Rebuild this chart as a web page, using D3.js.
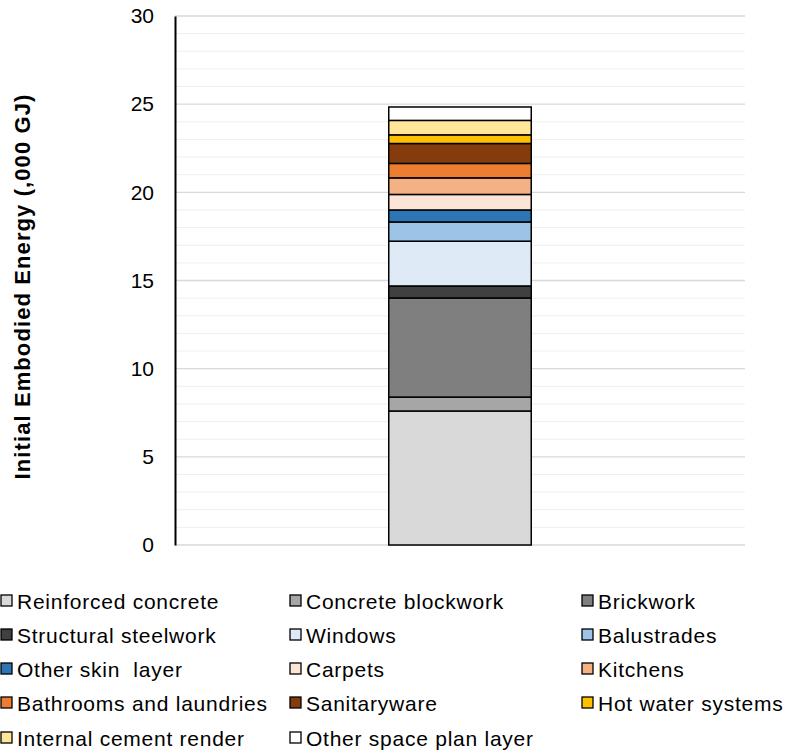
<!DOCTYPE html>
<html><head><meta charset="utf-8">
<script src="https://cdn.jsdelivr.net/npm/d3@7"></script>
<style>body{margin:0;background:#fff;font-family:"Liberation Sans",Arial,sans-serif;}</style>
</head><body>
<svg id="c" width="787" height="753"></svg>
<script>
const categories = ["Building"];
const seriesNames = ["Reinforced concrete","Concrete blockwork","Brickwork","Structural steelwork","Windows","Balustrades","Other skin  layer","Carpets","Kitchens","Bathrooms and laundries","Sanitaryware","Hot water systems","Internal cement render","Other space plan layer"];
const seriesValues = [7.60, 0.79, 5.62, 0.68, 2.54, 1.09, 0.68, 0.88, 0.94, 0.82, 1.13, 0.49, 0.82, 0.76];
const seriesColors = ["#d9d9d9","#a6a6a6","#7f7f7f","#404040","#deebf7","#9dc3e6","#2e75b6","#fbe5d6","#f4b183","#ed7d31","#843c0c","#ffc000","#ffe699","#ffffff"];
const yTicks = [0,5,10,15,20,25,30];
const yTitle = "Initial Embodied Energy (,000 GJ)";

const FONT = "Liberation Sans, Arial, sans-serif";
const svg = d3.select("#c");
const m = {l:175, r:745, t:16, b:545};
const y = d3.scaleLinear().domain([0,30]).range([m.b, m.t]);
const x = d3.scaleBand().domain(categories).range([m.l, m.r]).paddingInner(0.75).paddingOuter(0.375);

// minor gridlines
svg.append("g").selectAll("line").data(d3.range(1,30).filter(v=>v%5!==0)).join("line")
  .attr("x1", m.l).attr("x2", m.r).attr("y1", d=>y(d)).attr("y2", d=>y(d))
  .attr("stroke", "#efefef").attr("stroke-width", 1);
// major gridlines
svg.append("g").selectAll("line").data(yTicks).join("line")
  .attr("x1", m.l).attr("x2", m.r).attr("y1", d=>y(d)).attr("y2", d=>y(d))
  .attr("stroke", "#d9d9d9").attr("stroke-width", 1.3);

// stacked bar
const stackData = [Object.fromEntries(seriesNames.map((n,i)=>[n, seriesValues[i]]))];
const stacked = d3.stack().keys(seriesNames)(stackData);
svg.append("g").selectAll("rect").data(stacked).join("rect")
  .attr("x", x(categories[0]))
  .attr("width", x.bandwidth())
  .attr("y", d=>y(d[0][1]))
  .attr("height", d=>y(d[0][0]) - y(d[0][1]))
  .attr("fill", (d,i)=>seriesColors[i])
  .attr("stroke", "#000").attr("stroke-width", 1.5);

// y axis
const ax = svg.append("g").attr("transform", `translate(${m.l},0)`)
  .call(d3.axisLeft(y).tickValues(yTicks).tickSize(0).tickPadding(21));
ax.select(".domain").attr("stroke","#000").attr("stroke-width",2);
ax.selectAll("text").attr("font-size", 21).attr("font-family",FONT).attr("fill","#000");

svg.append("text")
  .attr("transform", `translate(30,${(93+480)/2}) rotate(-90)`)
  .attr("text-anchor","middle").attr("font-size",22).attr("font-weight","bold")
  .attr("letter-spacing", 1.1)
  .attr("font-family",FONT).text(yTitle);

// legend
const colX = [0, 289, 581];
const rowY = [601, 635, 669, 703, 738];
const lg = svg.append("g").selectAll("g").data(seriesNames).join("g")
  .attr("transform", (d,i)=>`translate(${colX[i%3]},${rowY[Math.floor(i/3)]})`);
lg.append("rect").attr("x",1).attr("y",-6).attr("width",11).attr("height",11)
  .attr("fill",(d,i)=>seriesColors[i]).attr("stroke","#000").attr("stroke-width",1.3);
lg.append("text").attr("x",17).attr("y",0).attr("dy","0.36em")
  .attr("font-size",21).attr("letter-spacing",0.75).attr("font-family",FONT)
  .attr("fill","#000").style("white-space","pre").text(d=>d);
</script>
</body></html>
